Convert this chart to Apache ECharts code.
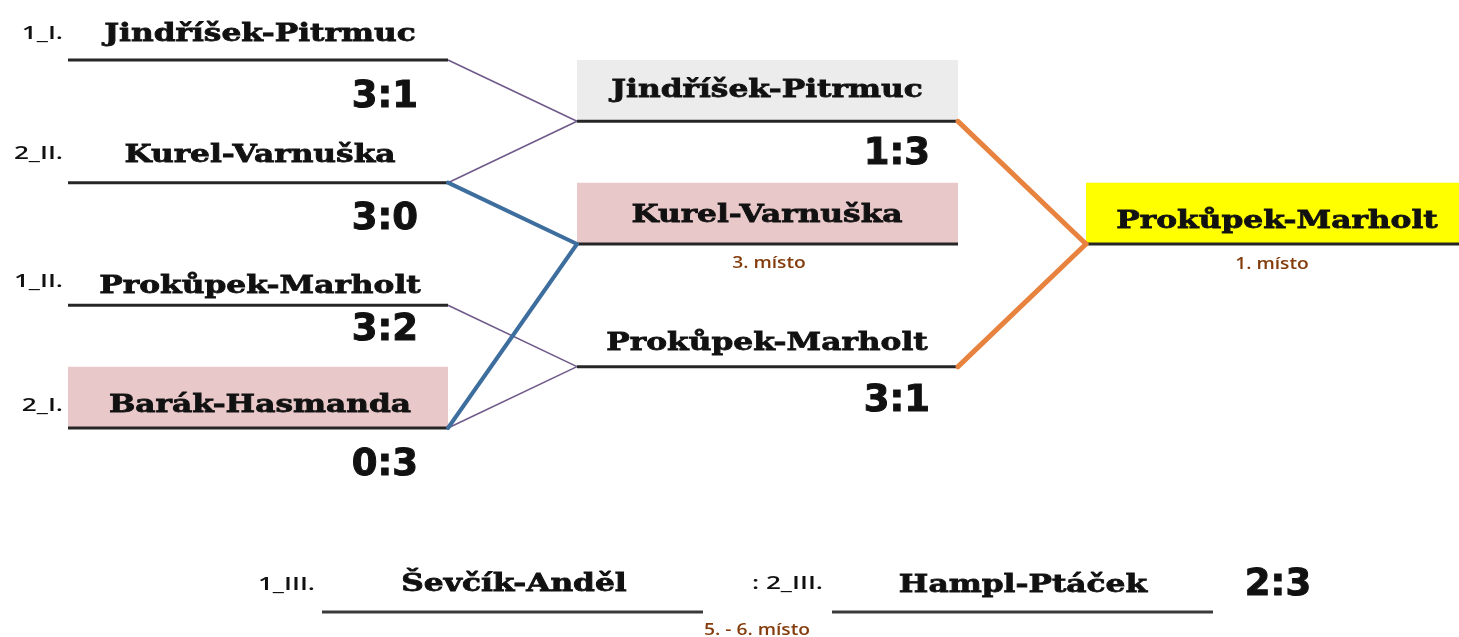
<!DOCTYPE html>
<html><head><meta charset="utf-8">
<script src="https://cdn.jsdelivr.net/npm/echarts@6/dist/echarts.min.js"></script>
<style>html,body{margin:0;padding:0;background:#fff}#c{width:1459px;height:637px}</style>
</head><body><div id="c"></div>
<script>
// ---------- DATA ----------
const round1Teams = ['Jindříšek-Pitrmuc', 'Kurel-Varnuška', 'Prokůpek-Marholt', 'Barák-Hasmanda'];
const round1Seeds = ['1_I.', '2_II.', '1_II.', '2_I.'];
const round1Scores = ['3:1', '3:0', '3:2', '0:3'];
const round2Teams = ['Jindříšek-Pitrmuc', 'Kurel-Varnuška', 'Prokůpek-Marholt'];
const round2Scores = ['1:3', '', '3:1'];
const finalTeams = ['Prokůpek-Marholt'];
const placeLabels = ['3. místo', '1. místo', '5. - 6. místo'];
const placementTeams = ['Ševčík-Anděl', 'Hampl-Ptáček'];
const placementSeeds = ['1_III.', ': 2_III.'];
const placementScores = ['2:3'];

// ---------- LAYOUT (positions / styles) ----------
const ROW0 = 60, ROWH = 61.33;
const rowY = r => ROW0 + r * ROWH;
const cols = [[68, 448], [577, 958], [1086, 1459]];
const r1Rows = [0, 2, 4, 6], r2Rows = [1, 3, 5], fRows = [3];
const r1NameDy = [26, 27, 19, 22], r2NameDy = [31, 28, 23], fNameDy = [22];
const r1ScoreDy = [37, 37, 25, 37], r2ScoreDy = [33, 0, 35];
const r1SeedDy = [26, 29, 23, 22];
const BOTTOM_ROW = 9;
const bottomLines = [[322, 703], [832, 1213]];

const C = {
  line: '#262626', purple: '#6f5a8a', blue: '#3d6e9e', orange: '#e8823f',
  grey: '#ececec', pink: '#e8c8c9', yellow: '#ffff00', brown: '#843c0c'
};
// [font, scaleX, strokeWidth]
const F_NAME = ['bold 25px "DejaVu Serif"', 1.25, 0.8];
const F_SCORE = ['bold 37px "DejaVu Sans"', 1.0, 1.0];
const F_SEED = ['600 18px "Open Sans"', 1.45, 0];
const F_PLACE = ['600 16px "Open Sans"', 1.2, 0];

// ---------- BUILD MARKS ----------
const boxes = [];   // [x1,y1,x2,y2,fill]
const strokes = []; // [x1,y1,x2,y2,color,width]
const texts = [];   // [x,y,text,fontSpec,align,color]

boxes.push([cols[0][0], rowY(r1Rows[3]) - ROWH, cols[0][1], rowY(r1Rows[3]), C.pink]);
boxes.push([cols[1][0], rowY(r2Rows[0]) - ROWH, cols[1][1], rowY(r2Rows[0]), C.grey]);
boxes.push([cols[1][0], rowY(r2Rows[1]) - ROWH, cols[1][1], rowY(r2Rows[1]), C.pink]);
boxes.push([cols[2][0], rowY(fRows[0]) - ROWH, cols[2][1], rowY(fRows[0]), C.yellow]);

r1Rows.forEach(r => strokes.push([cols[0][0], rowY(r), cols[0][1], rowY(r), C.line, 3]));
r2Rows.forEach(r => strokes.push([cols[1][0], rowY(r), cols[1][1], rowY(r), C.line, 3]));
fRows.forEach(r => strokes.push([cols[2][0], rowY(r), cols[2][1], rowY(r), C.line, 3]));
bottomLines.forEach(l => strokes.push([l[0], rowY(BOTTOM_ROW), l[1], rowY(BOTTOM_ROW), '#3a3a3a', 3]));

// connectors: [fromRound, fromSlot, toRound, toSlot, color, width]
const links = [
  [0, 0, 1, 0, C.purple, 1.6], [0, 1, 1, 0, C.purple, 1.6],
  [0, 2, 1, 2, C.purple, 1.6], [0, 3, 1, 2, C.purple, 1.6],
  [0, 1, 1, 1, C.blue, 4], [0, 3, 1, 1, C.blue, 4],
  [1, 0, 2, 0, C.orange, 5], [1, 2, 2, 0, C.orange, 5]
];
const roundRows = [r1Rows, r2Rows, fRows];
links.forEach(([fr, fs, tr, ts, col, w]) => {
  strokes.push([cols[fr][1], rowY(roundRows[fr][fs]), cols[tr][0], rowY(roundRows[tr][ts]), col, w]);
});

const centerX = [260, 767, 1277];
round1Teams.forEach((t, i) => texts.push([centerX[0], rowY(r1Rows[i]) - r1NameDy[i], t, F_NAME, 'center', '#111']));
round2Teams.forEach((t, i) => texts.push([centerX[1], rowY(r2Rows[i]) - r2NameDy[i], t, F_NAME, 'center', '#111']));
finalTeams.forEach((t, i) => texts.push([centerX[2], rowY(fRows[i]) - fNameDy[i], t, F_NAME, 'center', '#111']));
round1Seeds.forEach((t, i) => texts.push([63, rowY(r1Rows[i]) - r1SeedDy[i], t, F_SEED, 'right', '#111']));
round1Scores.forEach((t, i) => texts.push([418, rowY(r1Rows[i]) + r1ScoreDy[i], t, F_SCORE, 'right', '#111']));
round2Scores.forEach((t, i) => { if (t) texts.push([930, rowY(r2Rows[i]) + r2ScoreDy[i], t, F_SCORE, 'right', '#111']); });
texts.push([769, rowY(r2Rows[1]) + 19, placeLabels[0], F_PLACE, 'center', C.brown]);
texts.push([1272, rowY(fRows[0]) + 20, placeLabels[1], F_PLACE, 'center', C.brown]);
texts.push([757, rowY(BOTTOM_ROW) + 18, placeLabels[2], F_PLACE, 'center', C.brown]);
texts.push([514, rowY(BOTTOM_ROW) - 27, placementTeams[0], F_NAME, 'center', '#111']);
texts.push([1023, rowY(BOTTOM_ROW) - 26, placementTeams[1], F_NAME, 'center', '#111']);
texts.push([315, rowY(BOTTOM_ROW) - 27, placementSeeds[0], F_SEED, 'right', '#111']);
texts.push([823, rowY(BOTTOM_ROW) - 28, placementSeeds[1], F_SEED, 'right', '#111']);
texts.push([1278, rowY(BOTTOM_ROW) - 27, placementScores[0], F_SCORE, 'center', '#111']);

// ---------- CHART ----------
const chart = echarts.init(document.getElementById('c'), null, {renderer: 'canvas'});
chart.setOption({
  animation: false,
  backgroundColor: '#ffffff',
  grid: {left: 0, right: 0, top: 0, bottom: 0},
  xAxis: {type: 'value', min: 0, max: 1459, show: false},
  yAxis: {type: 'value', min: 0, max: 637, inverse: true, show: false},
  tooltip: {show: false},
  series: [
    {
      type: 'custom', z: 1, silent: true,
      data: boxes.map(b => [b[0], b[1], b[2], b[3]]),
      renderItem: (params, api) => {
        const p1 = api.coord([api.value(0), api.value(1)]);
        const p2 = api.coord([api.value(2), api.value(3)]);
        return {type: 'rect', shape: {x: p1[0], y: p1[1], width: p2[0] - p1[0], height: p2[1] - p1[1]},
          style: {fill: boxes[params.dataIndex][4]}};
      }
    },
    {
      type: 'custom', z: 2, silent: true,
      data: strokes.map(s => [s[0], s[1], s[2], s[3]]),
      renderItem: (params, api) => {
        const p1 = api.coord([api.value(0), api.value(1)]);
        const p2 = api.coord([api.value(2), api.value(3)]);
        const s = strokes[params.dataIndex];
        return {type: 'line', shape: {x1: p1[0], y1: p1[1], x2: p2[0], y2: p2[1]},
          style: {stroke: s[4], lineWidth: s[5], lineCap: s[5] > 3 ? 'round' : 'butt'}};
      }
    },
    {
      type: 'custom', z: 3, silent: true,
      data: texts.map(t => [t[0], t[1]]),
      renderItem: (params, api) => {
        const p = api.coord([api.value(0), api.value(1)]);
        const t = texts[params.dataIndex];
        const f = t[3];
        const style = {text: t[2], font: f[0], fill: t[5], align: t[4], verticalAlign: 'middle'};
        if (f[2] > 0) { style.stroke = t[5]; style.lineWidth = f[2]; }
        return {type: 'text', x: p[0], y: p[1], scaleX: f[1], scaleY: 1, style: style};
      }
    }
  ]
});
</script></body></html>
